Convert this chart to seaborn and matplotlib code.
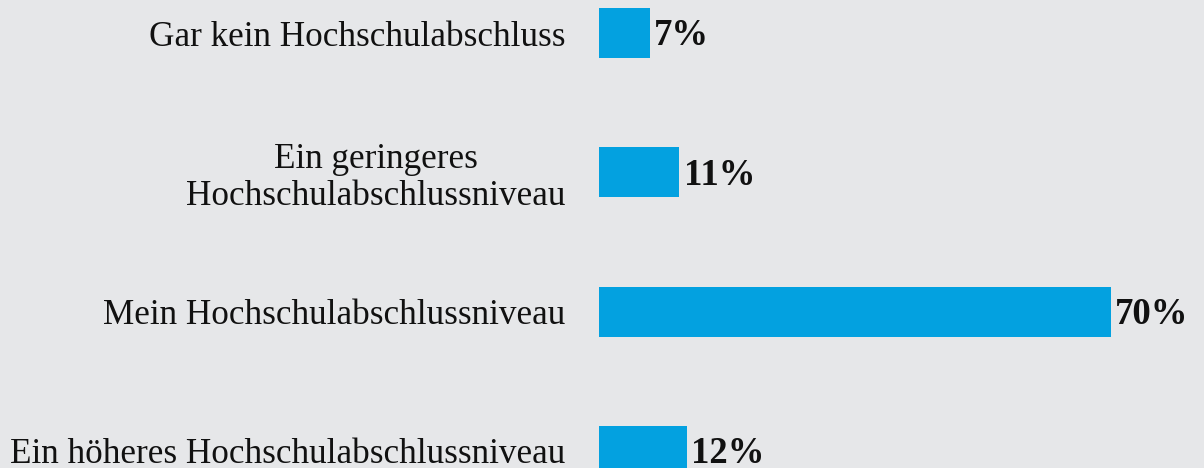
import matplotlib
matplotlib.use("Agg")
import matplotlib.pyplot as plt
import seaborn as sns
import pandas as pd

categories = [
    "Gar kein Hochschulabschluss",
    "Ein geringeres\nHochschulabschlussniveau",
    "Mein Hochschulabschlussniveau",
    "Ein höheres Hochschulabschlussniveau",
]
values = [7, 11, 70, 12]
value_labels = ["7%", "11%", "70%", "12%"]

bg = "#e6e7e9"
bar_color = "#03a1e0"

sns.set_theme(style="white")
plt.rcParams["font.family"] = ["Liberation Serif", "DejaVu Serif"]

df = pd.DataFrame({"cat": categories, "val": values})

fig = plt.figure(figsize=(12.04, 4.68), dpi=100, facecolor=bg)
ax = fig.add_axes([599 / 1204, 0, 1 - 599 / 1204, 1])
ax.set_facecolor(bg)

sns.barplot(data=df, x="val", y="cat", color=bar_color, width=0.359,
            saturation=1, ax=ax, orient="h", linewidth=0)

ax.set_xlim(0, (1204 - 599) / (512 / 70))
ax.set_ylim(3.123, -0.237)
ax.set_xlabel("")
ax.set_ylabel("")
ax.set_xticks([])
for s in ax.spines.values():
    s.set_visible(False)

ax.tick_params(axis="y", length=0, pad=24, labelsize=25.3)
for lbl in ax.get_yticklabels():
    lbl.set_multialignment("center")
    lbl.set_linespacing(1.15)
    lbl.set_color("#111111")

for i, (v, t) in enumerate(zip(values, value_labels)):
    ax.annotate(t, xy=(v, i), xytext=(3, -2), textcoords="offset points",
                ha="left", va="center", fontsize=26.5, fontweight="bold",
                color="#111111", annotation_clip=False)

fig.savefig("out.png", dpi=100, facecolor=bg)
